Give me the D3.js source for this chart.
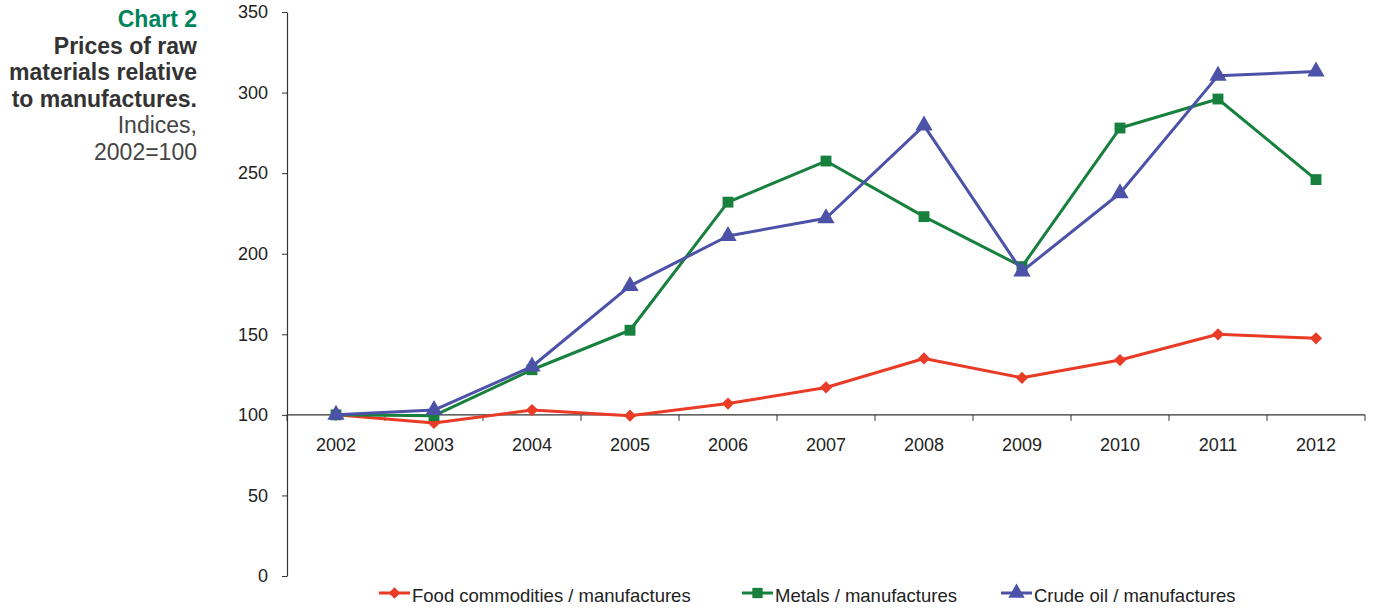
<!DOCTYPE html>
<html>
<head>
<meta charset="utf-8">
<script src="https://cdn.jsdelivr.net/npm/d3@7"></script>
<style>
  html, body { margin: 0; padding: 0; background: #fff; }
  svg { display: block; font-family: "Liberation Sans", Arial, Helvetica, sans-serif; }
</style>
</head>
<body>
<svg id="chart" width="1379" height="608"></svg>
<script>
// Years on the category axis
const years = ["2002","2003","2004","2005","2006","2007","2008","2009","2010","2011","2012"];

// Index values, 2002 = 100
const food   = [100, 95, 103, 99.5, 107, 117, 135, 123, 134, 150, 147.5];
const metals = [100, 99.5, 128, 152.5, 232, 257.5, 223, 192, 278, 296, 246];
const crude  = [100, 103, 130, 180, 211, 222, 279.5, 189, 237.5, 310.5, 313];

const yTicks = [0, 50, 100, 150, 200, 250, 300, 350];

const seriesNames = [
  "Food commodities / manufactures",
  "Metals / manufactures",
  "Crude oil / manufactures"
];
const seriesColors = ["#e93b26", "#17803d", "#4b52a8"];
const seriesMarkers = [d3.symbolDiamond2, d3.symbolSquare, d3.symbolTriangle];
const markerSizes = [95, 118, 130];

const series = [food, metals, crude].map((vals, i) => ({
  name: seriesNames[i], color: seriesColors[i],
  marker: seriesMarkers[i], size: markerSizes[i],
  values: vals.map((v, j) => ({ year: years[j], value: v }))
}));

const svg = d3.select("#chart");

const x = d3.scaleBand().domain(years).range([287, 1365]);
const y = d3.scaleLinear().domain([0, 350]).range([576, 12]);

// Title block
const title = svg.append("g").attr("text-anchor", "end");
const titleLines = [
  { t: "Chart 2", w: "bold", c: "#00845c", y: 27 },
  { t: "Prices of raw", w: "bold", c: "#333", y: 53.5 },
  { t: "materials relative", w: "bold", c: "#333", y: 80 },
  { t: "to manufactures.", w: "bold", c: "#333", y: 106.5 },
  { t: "Indices,", w: "normal", c: "#444", y: 133 },
  { t: "2002=100", w: "normal", c: "#444", y: 159.5 }
];
titleLines.forEach(l => {
  title.append("text")
    .attr("x", 197).attr("y", l.y)
    .attr("font-size", 23).attr("font-weight", l.w)
    .attr("fill", l.c).text(l.t);
});

// Y axis
const yAxis = svg.append("g")
  .attr("transform", `translate(${x.range()[0]},0)`)
  .call(d3.axisLeft(y).tickValues(yTicks).tickSize(5).tickPadding(14).tickSizeOuter(0));
yAxis.select(".domain").attr("stroke", "#333").attr("stroke-width", 1.2);
yAxis.selectAll(".tick line").attr("stroke", "#333");
yAxis.selectAll(".tick text").attr("font-size", 18).attr("fill", "#222")
  .attr("font-family", "Liberation Sans, Arial, sans-serif");

// X axis crossing at 100, ticks at category boundaries
const xAxisG = svg.append("g").attr("transform", `translate(0,${y(100)})`);
xAxisG.append("line")
  .attr("x1", x.range()[0]).attr("x2", x.range()[1])
  .attr("stroke", "#333").attr("stroke-width", 1.2);
const bounds = years.map(d => x(d)).concat([x.range()[1]]);
xAxisG.selectAll("line.tk").data(bounds).join("line")
  .attr("class", "tk")
  .attr("x1", d => d).attr("x2", d => d)
  .attr("y1", 0).attr("y2", 6)
  .attr("stroke", "#333");
xAxisG.selectAll("text").data(years).join("text")
  .attr("x", d => x(d) + x.bandwidth() / 2)
  .attr("y", 36)
  .attr("text-anchor", "middle")
  .attr("font-size", 18).attr("fill", "#222")
  .text(d => d);

// Lines and markers
const line = d3.line()
  .x(d => x(d.year) + x.bandwidth() / 2)
  .y(d => y(d.value));

series.forEach(s => {
  const g = svg.append("g");
  g.append("path")
    .datum(s.values)
    .attr("d", line)
    .attr("fill", "none")
    .attr("stroke", s.color)
    .attr("stroke-width", 3)
    .attr("stroke-linejoin", "round");
  g.selectAll("path.m").data(s.values).join("path")
    .attr("class", "m")
    .attr("transform", d => `translate(${x(d.year) + x.bandwidth() / 2},${y(d.value)})`)
    .attr("d", d3.symbol().type(s.marker).size(s.size))
    .attr("fill", s.color);
});

// Legend
const legendX = [379, 742, 1001];
const legend = svg.append("g");
series.forEach((s, i) => {
  const g = legend.append("g").attr("transform", `translate(${legendX[i]},593)`);
  g.append("line").attr("x1", 0).attr("x2", 31).attr("y1", 0).attr("y2", 0)
    .attr("stroke", s.color).attr("stroke-width", 3);
  g.append("path").attr("transform", "translate(15.5,0)")
    .attr("d", d3.symbol().type(s.marker).size(s.size * 0.9))
    .attr("fill", s.color);
  g.append("text").attr("x", 33).attr("y", 9)
    .attr("font-size", 18.5).attr("fill", "#222")
    .text(s.name);
});
</script>
</body>
</html>
